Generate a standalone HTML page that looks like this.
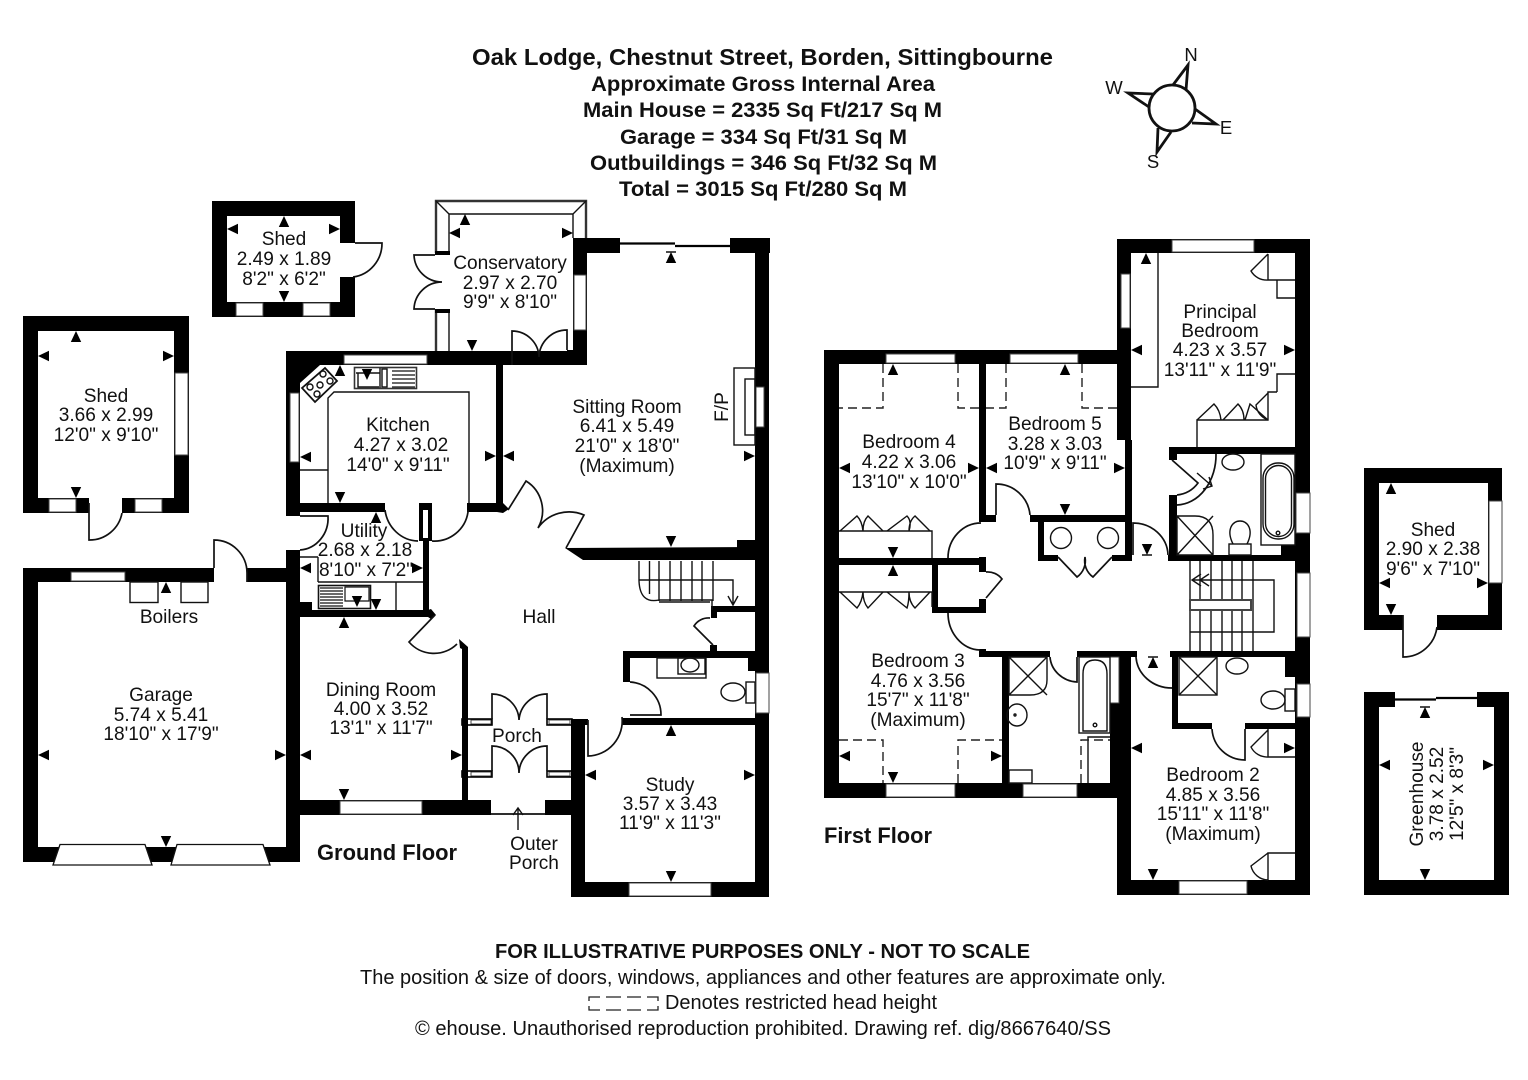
<!DOCTYPE html>
<html><head><meta charset="utf-8"><style>
html,body{margin:0;padding:0;background:#fff}
svg{display:block}
text{font-family:"Liberation Sans",sans-serif;fill:#111;font-size:19.1px;text-anchor:middle}
.b{font-weight:bold}
.s{font-size:18.5px}
.l{fill:none;stroke:#111;stroke-width:1.4}
.t{fill:none;stroke:#111;stroke-width:1.7}
.d{fill:none;stroke:#222;stroke-width:1.4;stroke-dasharray:9 5}
.w rect{fill:#000}
.n rect{fill:#fff;stroke:#444;stroke-width:1}
</style></head><body>
<svg width="1528" height="1080" viewBox="0 0 1528 1080" xmlns="http://www.w3.org/2000/svg">
<defs>
<polygon id="u" points="0,0 5.2,11 -5.2,11" fill="#000"/>
<polygon id="d" points="0,0 5.2,-11 -5.2,-11" fill="#000"/>
<polygon id="a" points="0,0 11,-5.2 11,5.2" fill="#000"/>
<polygon id="r" points="0,0 -11,-5.2 -11,5.2" fill="#000"/>
</defs>
<rect width="1528" height="1080" fill="#fff"/>

<!-- WALLS -->
<g class="w">
<rect x="212" y="201" width="143" height="15"/><rect x="212" y="201" width="15" height="116"/><rect x="212" y="302" width="143" height="15"/><rect x="340" y="201" width="15" height="42"/><rect x="340" y="277" width="15" height="40"/>
<rect x="23" y="316" width="166" height="15"/><rect x="23" y="316" width="15" height="197"/><rect x="174" y="316" width="15" height="197"/><rect x="23" y="498" width="66" height="15"/><rect x="122" y="498" width="67" height="15"/>
<rect x="23" y="568" width="191" height="14"/><rect x="247" y="568" width="53" height="14"/><rect x="23" y="568" width="15" height="294"/><rect x="23" y="847" width="277" height="15"/><rect x="286" y="550" width="14" height="312"/>
<rect x="286" y="351" width="301" height="14"/><rect x="286" y="351" width="14" height="165"/><rect x="286" y="503" width="99" height="9"/><rect x="467" y="503" width="36" height="9"/><rect x="496" y="365" width="7" height="147"/>
<polygon points="300,365 320,365 300,383" fill="#000"/><polygon points="503,503 509,509 503,513 497,512" fill="#000"/>
<rect x="419" y="503" width="13" height="7"/><rect x="419" y="508" width="4" height="33"/><rect x="428" y="508" width="4" height="33"/><rect x="423" y="538" width="6" height="72"/><rect x="300" y="610" width="130" height="7"/><rect x="300" y="602" width="12" height="8"/>
<polygon points="428,610 431,609 436,615 431,619 428,617" fill="#000"/>
<rect x="462" y="647" width="6" height="153"/><polygon points="459,639 468,647 468,652 460,648" fill="#000"/>
<rect x="286" y="800" width="205" height="15"/><rect x="545" y="800" width="30" height="15"/>
<rect x="571" y="719" width="14" height="178"/><rect x="571" y="719" width="17" height="6"/>
<rect x="571" y="882" width="198" height="15"/><rect x="622" y="718" width="133" height="7"/>
<rect x="623" y="651" width="7" height="31"/><rect x="623" y="651" width="132" height="7"/><rect x="748" y="658" width="7" height="13"/>
<rect x="573" y="238" width="47" height="15"/><rect x="730" y="238" width="40" height="15"/><rect x="755" y="238" width="14" height="659"/><rect x="573" y="238" width="14" height="127"/><rect x="567" y="350" width="20" height="15"/>
<polygon points="565,548 755,547 755,560 583,560" fill="#000"/><rect x="737" y="540" width="18" height="8"/>
<rect x="711" y="606" width="44" height="6"/><rect x="711" y="606" width="6" height="12"/><rect x="710" y="645" width="7" height="7"/>

<rect x="824" y="350" width="293" height="14"/><rect x="824" y="350" width="15" height="448"/><rect x="824" y="783" width="293" height="15"/>
<rect x="979" y="364" width="7" height="158"/><rect x="979" y="515" width="17" height="7"/><rect x="1030" y="515" width="102" height="7"/>
<rect x="1038" y="515" width="6" height="46"/><rect x="1038" y="555" width="20" height="6"/><rect x="1112" y="555" width="20" height="6"/><rect x="1125" y="440" width="7" height="121"/>
<rect x="1117" y="239" width="193" height="14"/><rect x="1117" y="239" width="14" height="201"/><rect x="1295" y="239" width="15" height="656"/>
<rect x="839" y="558" width="142" height="7"/><rect x="932" y="558" width="6" height="55"/><rect x="932" y="607" width="54" height="6"/><rect x="979" y="557" width="7" height="15"/><rect x="979" y="599" width="7" height="14"/>
<rect x="979" y="651" width="71" height="6"/><rect x="979" y="649" width="7" height="8"/><rect x="1077" y="651" width="60" height="6"/><rect x="1002" y="651" width="7" height="132"/>
<rect x="1117" y="657" width="14" height="238"/><rect x="1110" y="703" width="9" height="80"/><rect x="1117" y="880" width="193" height="15"/>
<rect x="1169" y="447" width="126" height="7"/><rect x="1169" y="447" width="8" height="13"/><rect x="1169" y="495" width="8" height="66"/><rect x="1168" y="555" width="142" height="6"/><rect x="1281" y="545" width="14" height="10"/>
<rect x="1170" y="651" width="125" height="6"/><rect x="1172" y="651" width="6" height="78"/><rect x="1172" y="723" width="40" height="6"/><rect x="1245" y="723" width="50" height="6"/><rect x="1285" y="657" width="10" height="20"/>
<rect x="1364" y="468" width="138" height="15"/><rect x="1364" y="468" width="15" height="162"/><rect x="1488" y="468" width="14" height="162"/><rect x="1364" y="615" width="39" height="15"/><rect x="1437" y="615" width="65" height="15"/>
<rect x="1364" y="692" width="31" height="15"/><rect x="1477" y="692" width="32" height="15"/><rect x="1364" y="692" width="15" height="203"/><rect x="1494" y="692" width="15" height="203"/><rect x="1364" y="880" width="145" height="15"/>
</g>

<!-- WINDOWS -->
<g class="n">
<rect x="236" y="303" width="27" height="13"/><rect x="303" y="303" width="27" height="13"/>
<rect x="175" y="373" width="13" height="82"/><rect x="49" y="499" width="27" height="13"/><rect x="135" y="499" width="27" height="13"/>
<rect x="344" y="355" width="83" height="9"/><rect x="290" y="393" width="9" height="69"/>
<rect x="71" y="572" width="54" height="9"/>
<rect x="574" y="275" width="12" height="55"/><rect x="756" y="387" width="8" height="40"/>
<rect x="340" y="801" width="82" height="13"/><rect x="629" y="883" width="82" height="13"/><rect x="756" y="673" width="13" height="40"/>
<rect x="886" y="354" width="69" height="9"/><rect x="1010" y="354" width="68" height="9"/>
<rect x="1172" y="240" width="82" height="12"/><rect x="1121" y="274" width="9" height="54"/><rect x="1296" y="493" width="14" height="40"/>
<rect x="886" y="784" width="69" height="13"/><rect x="1023" y="784" width="54" height="13"/><rect x="1110" y="657" width="9" height="46"/>
<rect x="1179" y="881" width="68" height="13"/><rect x="1297" y="573" width="13" height="64"/><rect x="1297" y="684" width="13" height="33"/>
<rect x="1489" y="501" width="13" height="82"/>
<rect x="471" y="720" width="20" height="4"/><rect x="549" y="720" width="21" height="4"/><rect x="471" y="772" width="20" height="4"/><rect x="549" y="772" width="21" height="4"/>
</g>
<rect x="462" y="719" width="30" height="6" fill="none" stroke="#000" stroke-width="1.6"/><rect x="547" y="719" width="25" height="6" fill="none" stroke="#000" stroke-width="1.6"/>
<rect x="462" y="771" width="30" height="6" fill="none" stroke="#000" stroke-width="1.6"/><rect x="547" y="771" width="25" height="6" fill="none" stroke="#000" stroke-width="1.6"/>

<path d="M53,865H152L145,844.500H60Z M171,865H270L263,844.500H177Z" fill="#fff" stroke="#111" stroke-width="1.300"/>

<path d="M436,253V201H586V238M436,310V351" fill="none" stroke="#333" stroke-width="2.400"/>
<path d="M449,253V214H573V238M449,310V351M436,201L449,214M586,201L573,214" class="l"/>
<rect x="435" y="251" width="15" height="4" fill="#000"/><rect x="435" y="309" width="15" height="4" fill="#000"/>

<path d="M620,243.500H675M675,246H730" fill="none" stroke="#000" stroke-width="2.200"/>
<path d="M1395,699.500H1436M1436,698H1477" fill="none" stroke="#000" stroke-width="2.200"/>

<!-- DOORS -->
<g class="t">
<path d="M355,243H382A33,34 0 0 1 353,277"/>
<path d="M89,503V540A33,33 0 0 0 122,513"/>
<path d="M214,568V540A33,33 0 0 1 247,573V582"/>
<path d="M300,516H328A30,32 0 0 1 300,550"/>
<path d="M435,255H414A28,28 0 0 0 442,282A28,28 0 0 0 414,309H435"/>
<path d="M512,365V331A27,27 0 0 1 539,357A28,28 0 0 1 567,330V350"/>
<path d="M508,510L526,481A35,35 0 0 1 538,528A38,38 0 0 1 584,515L566,548"/>
<path d="M385,510A34,36 0 0 0 418,541"/>
<path d="M468,510V512A34,34 0 0 1 432,541"/>
<path d="M435,615L409,642A33,33 0 0 0 457,644"/>
<path d="M630,682A33,33 0 0 1 661,715H630"/>
<path d="M588,720V756A35,35 0 0 0 622,717"/>
<path d="M492,719V694A27,27 0 0 1 519,720A28,28 0 0 1 547,694V719"/>
<path d="M492,771V746A27,27 0 0 1 519,773A28,28 0 0 1 547,746V771"/>
<path d="M710,618A17,17 0 0 0 694,626L713,645"/>
<path d="M996,515V484A34,34 0 0 1 1030,515"/>
<path d="M948,558A33,35 0 0 1 981,523"/>
<path d="M948,613A33,37 0 0 0 980,650"/>
<path d="M1058,557L1077,577A20,20 0 0 0 1085,557A20,20 0 0 0 1093,577L1112,557"/>
<path d="M986,572A18,18 0 0 1 1002,579L986,598"/>
<path d="M1133,555V523A35,33 0 0 1 1168,555"/>
<path d="M1172,460L1198,483A30,30 0 0 1 1177,495"/>
<path d="M1216,454A40,50 0 0 1 1177,505"/>
<path d="M1050,657A29,27 0 0 0 1077,682V657"/>
<path d="M1136,657A36,33 0 0 0 1172,688"/>
<path d="M1212,729A33,33 0 0 0 1245,760V729"/>
<path d="M1403,615V657A34,34 0 0 0 1437,627"/>
</g>

<!-- FIXTURES -->
<g class="l">
<path d="M328,503V398L334,392H469V503M300,470H328"/>
<polygon points="302,388 325,368 337,381 315,402" stroke-width="1.800" fill="#fff"/>
<circle cx="323" cy="374" r="3"/><circle cx="330" cy="381" r="3"/><circle cx="320" cy="385" r="3"/><circle cx="310" cy="387" r="3"/><circle cx="317" cy="394" r="3"/>
<rect x="354.500" y="367.500" width="62" height="21" stroke="#333" stroke-width="1.600"/>
<path d="M356,373H380M380,368V388M358,373V387H379"/><rect x="382" y="369" width="5" height="18"/>
<path d="M392,371H415M392,375H415M392,379H415M392,383H415M392,387H415" stroke-width="1.300"/>
<path d="M300,557H318M318,557V582M318,582H423M396,582V610"/>
<rect x="318.500" y="585.500" width="52" height="23" stroke-width="1.600"/>
<path d="M320,588H343M320,591H343M320,594H343M320,597H343M320,600H343M320,603H343M320,606H343M345,587H369V601H345ZM345,601H369" stroke-width="1.200"/>
<rect x="130" y="582" width="28" height="20.500"/><rect x="181" y="582" width="27" height="20.500"/>
<rect x="734" y="368" width="21" height="77"/><rect x="745" y="379" width="10" height="56"/>
<rect x="657" y="658" width="49" height="20"/><rect x="678" y="658" width="27" height="16"/><ellipse cx="690" cy="665" rx="9" ry="7"/>
<rect x="746" y="682" width="9" height="21"/><ellipse cx="733" cy="692" rx="12" ry="9"/>
<path d="M639,561V581Q640,604 659,600M649.500,561V594M659,561V601M670,561V601M681,561V601M692,561V601M702,561V601M713,561V601M639,580H733V605M728,596L733,605L738,596M659,600H712V610M659,602H710"/>
<path d="M518,830V808M513,815L518,808L523,815"/>
<path d="M491,814H545" stroke-width="1.800"/>
<path d="M839,531H932V558M839,592H932V607"/>
<path d="M840,531L857,516Q862,521 863,531Q863,521 868,516L883,531M887,531L907,516Q912,521 909,531Q909,521 915,516L930,531"/>
<path d="M840,592L857,608Q862,602 863,592Q863,602 868,608L883,592M887,592L907,608Q909,602 909,592Q909,602 915,608L930,592"/>
<circle cx="1061" cy="538" r="10.500"/><circle cx="1108" cy="538" r="10.500"/>
<path d="M1158,253V387H1131"/>
<path d="M1268,254V280H1295M1268,254L1251,271A18,18 0 0 0 1268,280M1277,280V298H1295"/>
<path d="M1277,392V374H1295M1277,392H1268V420H1197V447"/>
<path d="M1197,420L1214,404Q1220,410 1221,420M1223,420L1238,404Q1244,410 1244,420M1245,420L1250,404L1268,420M1268,393L1256,405A18,18 0 0 0 1268,420"/>
<path d="M1197,473L1212,486M1203,489L1212,486L1209,477"/>
<ellipse cx="1233" cy="462" rx="11" ry="8"/>
<rect x="1261" y="454" width="34" height="91"/>
<rect x="1263" y="463" width="31" height="76" rx="15"/><rect x="1265.500" y="465.500" width="26" height="71" rx="13"/><circle cx="1278" cy="533" r="1.800"/>
<path d="M1177,516H1195Q1213,516 1213,535V555H1177ZM1177,516L1213,555M1213,516L1177,555"/>
<rect x="1229" y="544" width="22" height="11"/><path d="M1233,544C1226,530 1232,521 1240,521C1248,521 1254,530 1247,544"/>
<path d="M1009,657H1047V680Q1047,695 1030,695H1009ZM1009,657L1047,695M1047,657L1009,695"/>
<ellipse cx="1017" cy="715" rx="10" ry="11"/><circle cx="1015" cy="715" r="1"/>
<rect x="1079" y="657" width="31" height="76"/><path d="M1083,731V674Q1083,660 1095,660Q1107,660 1107,674V731Z"/><circle cx="1095" cy="725" r="1.800"/>
<path d="M1088,783V737H1110"/><rect x="1009" y="770" width="23" height="13"/>
<rect x="1179" y="657" width="38" height="38"/><path d="M1179,657L1217,695M1217,657L1179,695"/>
<ellipse cx="1237" cy="666" rx="11" ry="8"/><rect x="1285" y="689" width="10" height="22"/><ellipse cx="1273" cy="700" rx="12" ry="9"/>
<path d="M1268,729V757H1295M1268,730L1251,747A18,18 0 0 0 1268,757M1268,880V853H1295M1268,853L1251,866A18,18 0 0 0 1268,880"/>
<path d="M1190,561V651M1200,561V600M1211,561V600M1222,561V600M1232,561V600M1242,561V600M1200,610V651M1211,610V651M1222,610V651M1232,610V651M1242,610V651M1253,561V651M1192,580H1274V632H1190M1201,574L1192,580L1201,586M1209,574L1200,580L1209,586"/>
<rect x="1190" y="600" width="61" height="10" fill="#fff" stroke="#444" stroke-width="2"/>
<path d="M1142,555H1152M1148,657H1158M1420,707H1430M666,252H676" stroke-width="1.600"/>
</g>

<g class="d">
<path d="M883,364V408H839M958,364V408H979M1006,364V408H986M1082,364V408H1117"/>
<path d="M839,740H883V783M958,783V740H1002M1081,783V740H1110"/>
</g>

<!-- ARROWS -->
<g>
<use href="#u" x="284" y="216"/><use href="#d" x="284" y="302"/><use href="#a" x="227" y="229"/><use href="#r" x="340" y="229"/>
<use href="#u" x="76" y="331"/><use href="#d" x="76" y="498"/><use href="#a" x="38" y="356"/><use href="#r" x="174" y="356"/>
<use href="#u" x="340" y="365"/><use href="#a" x="300" y="457"/><use href="#d" x="340" y="503"/><use href="#r" x="496" y="456"/><use href="#a" x="503" y="456"/>
<use href="#u" x="376" y="512"/><use href="#a" x="300" y="568"/><use href="#r" x="423" y="568"/><use href="#d" x="376" y="610"/><use href="#d" x="357" y="607"/><use href="#d" x="367" y="380"/>
<use href="#u" x="465" y="214"/><use href="#a" x="449" y="233"/><use href="#r" x="573" y="233"/><use href="#d" x="472" y="351"/>
<use href="#u" x="671" y="252"/><use href="#d" x="671" y="547"/><use href="#r" x="755" y="456"/>
<use href="#u" x="166" y="582"/><use href="#a" x="38" y="755"/><use href="#r" x="286" y="755"/><use href="#d" x="166" y="847"/>
<use href="#u" x="344" y="617"/><use href="#a" x="300" y="755"/><use href="#r" x="462" y="755"/><use href="#d" x="344" y="800"/>
<use href="#u" x="671" y="725"/><use href="#a" x="585" y="775"/><use href="#r" x="755" y="775"/><use href="#d" x="671" y="882"/>
<use href="#u" x="893" y="364"/><use href="#d" x="893" y="558"/><use href="#a" x="839" y="468"/><use href="#r" x="979" y="468"/>
<use href="#u" x="1065" y="364"/><use href="#d" x="1065" y="515"/><use href="#a" x="986" y="468"/><use href="#r" x="1125" y="468"/>
<use href="#u" x="893" y="565"/><use href="#a" x="839" y="756"/><use href="#r" x="1002" y="756"/><use href="#d" x="893" y="783"/>
<use href="#u" x="1153" y="657"/><use href="#d" x="1153" y="880"/><use href="#a" x="1131" y="748"/><use href="#r" x="1295" y="748"/>
<use href="#u" x="1146" y="253"/><use href="#a" x="1131" y="350"/><use href="#r" x="1295" y="350"/><use href="#d" x="1147" y="555"/>
<use href="#u" x="1391" y="483"/><use href="#d" x="1391" y="615"/><use href="#a" x="1379" y="583"/><use href="#r" x="1488" y="583"/>
<use href="#u" x="1425" y="707"/><use href="#d" x="1425" y="880"/><use href="#a" x="1379" y="765"/><use href="#r" x="1494" y="765"/>
</g>

<!-- COMPASS -->
<g fill="none" stroke="#111" stroke-width="2.800" stroke-linejoin="miter">
<path d="M1173,85L1188,65L1186,90"/><path d="M1195,109L1216,124L1192,123"/><path d="M1171,132L1157,152L1158,128"/><path d="M1153,94L1128,93L1149,107"/>
<circle cx="1172" cy="108" r="23" fill="#fff"/>
</g>
<text class="s" x="1191" y="61">N</text><text class="s" x="1114" y="94">W</text><text class="s" x="1226" y="134">E</text><text class="s" x="1153" y="168">S</text>

<!-- TITLE -->
<text class="b" x="762.500" y="65" style="font-size:23.5px" textLength="581" lengthAdjust="spacingAndGlyphs">Oak Lodge, Chestnut Street, Borden, Sittingbourne</text>
<text class="b" x="763" y="91" style="font-size:21.5px" textLength="344" lengthAdjust="spacingAndGlyphs">Approximate Gross Internal Area</text>
<text class="b" x="762.500" y="117" style="font-size:21.5px" textLength="359" lengthAdjust="spacingAndGlyphs">Main House = 2335 Sq Ft/217 Sq M</text>
<text class="b" x="763.500" y="144" style="font-size:21.5px" textLength="287" lengthAdjust="spacingAndGlyphs">Garage = 334 Sq Ft/31 Sq M</text>
<text class="b" x="763.500" y="170" style="font-size:21.5px" textLength="347" lengthAdjust="spacingAndGlyphs">Outbuildings = 346 Sq Ft/32 Sq M</text>
<text class="b" x="763" y="196" style="font-size:21.5px" textLength="288" lengthAdjust="spacingAndGlyphs">Total = 3015 Sq Ft/280 Sq M</text>

<!-- ROOM LABELS -->
<text x="284" y="245">Shed</text><text x="284" y="265">2.49 x 1.89</text><text x="284" y="285">8'2" x 6'2"</text>
<text x="106" y="402">Shed</text><text x="106" y="421">3.66 x 2.99</text><text x="106" y="441">12'0" x 9'10"</text>
<text x="398" y="431">Kitchen</text><text x="401" y="451">4.27 x 3.02</text><text x="398" y="471">14'0" x 9'11"</text>
<text x="364" y="537">Utility</text><text x="365" y="556">2.68 x 2.18</text><text x="366" y="576">8'10" x 7'2"</text>
<text x="510" y="269">Conservatory</text><text x="510" y="289">2.97 x 2.70</text><text x="510" y="308">9'9" x 8'10"</text>
<text x="627" y="413">Sitting Room</text><text x="627" y="432">6.41 x 5.49</text><text x="627" y="452">21'0" x 18'0"</text><text x="627" y="472">(Maximum)</text>
<text transform="translate(728,407) rotate(-90)">F/P</text>
<text x="161" y="701">Garage</text><text x="161" y="721">5.74 x 5.41</text><text x="161" y="740">18'10" x 17'9"</text>
<text x="169" y="623">Boilers</text>
<text x="381" y="696">Dining Room</text><text x="381" y="715">4.00 x 3.52</text><text x="381" y="734">13'1" x 11'7"</text>
<text class="b" x="387" y="860" style="font-size:22px" textLength="140" lengthAdjust="spacingAndGlyphs">Ground Floor</text>
<text x="539" y="623">Hall</text>
<text x="517" y="742">Porch</text>
<text x="534" y="850">Outer</text><text x="534" y="869">Porch</text>
<text x="670" y="791">Study</text><text x="670" y="810">3.57 x 3.43</text><text x="670" y="829">11'9" x 11'3"</text>
<text x="909" y="448">Bedroom 4</text><text x="909" y="468">4.22 x 3.06</text><text x="909" y="488">13'10" x 10'0"</text>
<text x="1055" y="430">Bedroom 5</text><text x="1055" y="450">3.28 x 3.03</text><text x="1055" y="469">10'9" x 9'11"</text>
<text x="918" y="667">Bedroom 3</text><text x="918" y="687">4.76 x 3.56</text><text x="918" y="706">15'7" x 11'8"</text><text x="918" y="726">(Maximum)</text>
<text x="1213" y="781">Bedroom 2</text><text x="1213" y="801">4.85 x 3.56</text><text x="1213" y="820">15'11" x 11'8"</text><text x="1213" y="840">(Maximum)</text>
<text x="1220" y="318">Principal</text><text x="1220" y="337">Bedroom</text><text x="1220" y="356">4.23 x 3.57</text><text x="1220" y="376">13'11" x 11'9"</text>
<text class="b" x="878" y="843" style="font-size:22px" textLength="108" lengthAdjust="spacingAndGlyphs">First Floor</text>
<text x="1433" y="536">Shed</text><text x="1433" y="555">2.90 x 2.38</text><text x="1433" y="575">9'6" x 7'10"</text>
<text transform="translate(1423,794) rotate(-90)">Greenhouse</text><text transform="translate(1443,794) rotate(-90)">3.78 x 2.52</text><text transform="translate(1463,794) rotate(-90)">12'5" x 8'3"</text>

<!-- FOOTER -->
<text class="b" x="762.500" y="958" style="font-size:20.5px" textLength="535" lengthAdjust="spacingAndGlyphs">FOR ILLUSTRATIVE PURPOSES ONLY - NOT TO SCALE</text>
<text x="763" y="984" style="font-size:20.5px" textLength="806" lengthAdjust="spacingAndGlyphs">The position &amp; size of doors, windows, appliances and other features are approximate only.</text>
<path d="M589,1001V997H600M606,997H621M627,997H641M647,997H658V1001M589,1006V1010H600M606,1010H621M627,1010H641M647,1010H658V1006" fill="none" stroke="#222" stroke-width="1.300"/>
<text x="801" y="1009" style="font-size:20.5px" textLength="272" lengthAdjust="spacingAndGlyphs">Denotes restricted head height</text>
<text x="763" y="1035" style="font-size:20.5px" textLength="696" lengthAdjust="spacingAndGlyphs">© ehouse. Unauthorised reproduction prohibited. Drawing ref. dig/8667640/SS</text>
</svg>
</body></html>
